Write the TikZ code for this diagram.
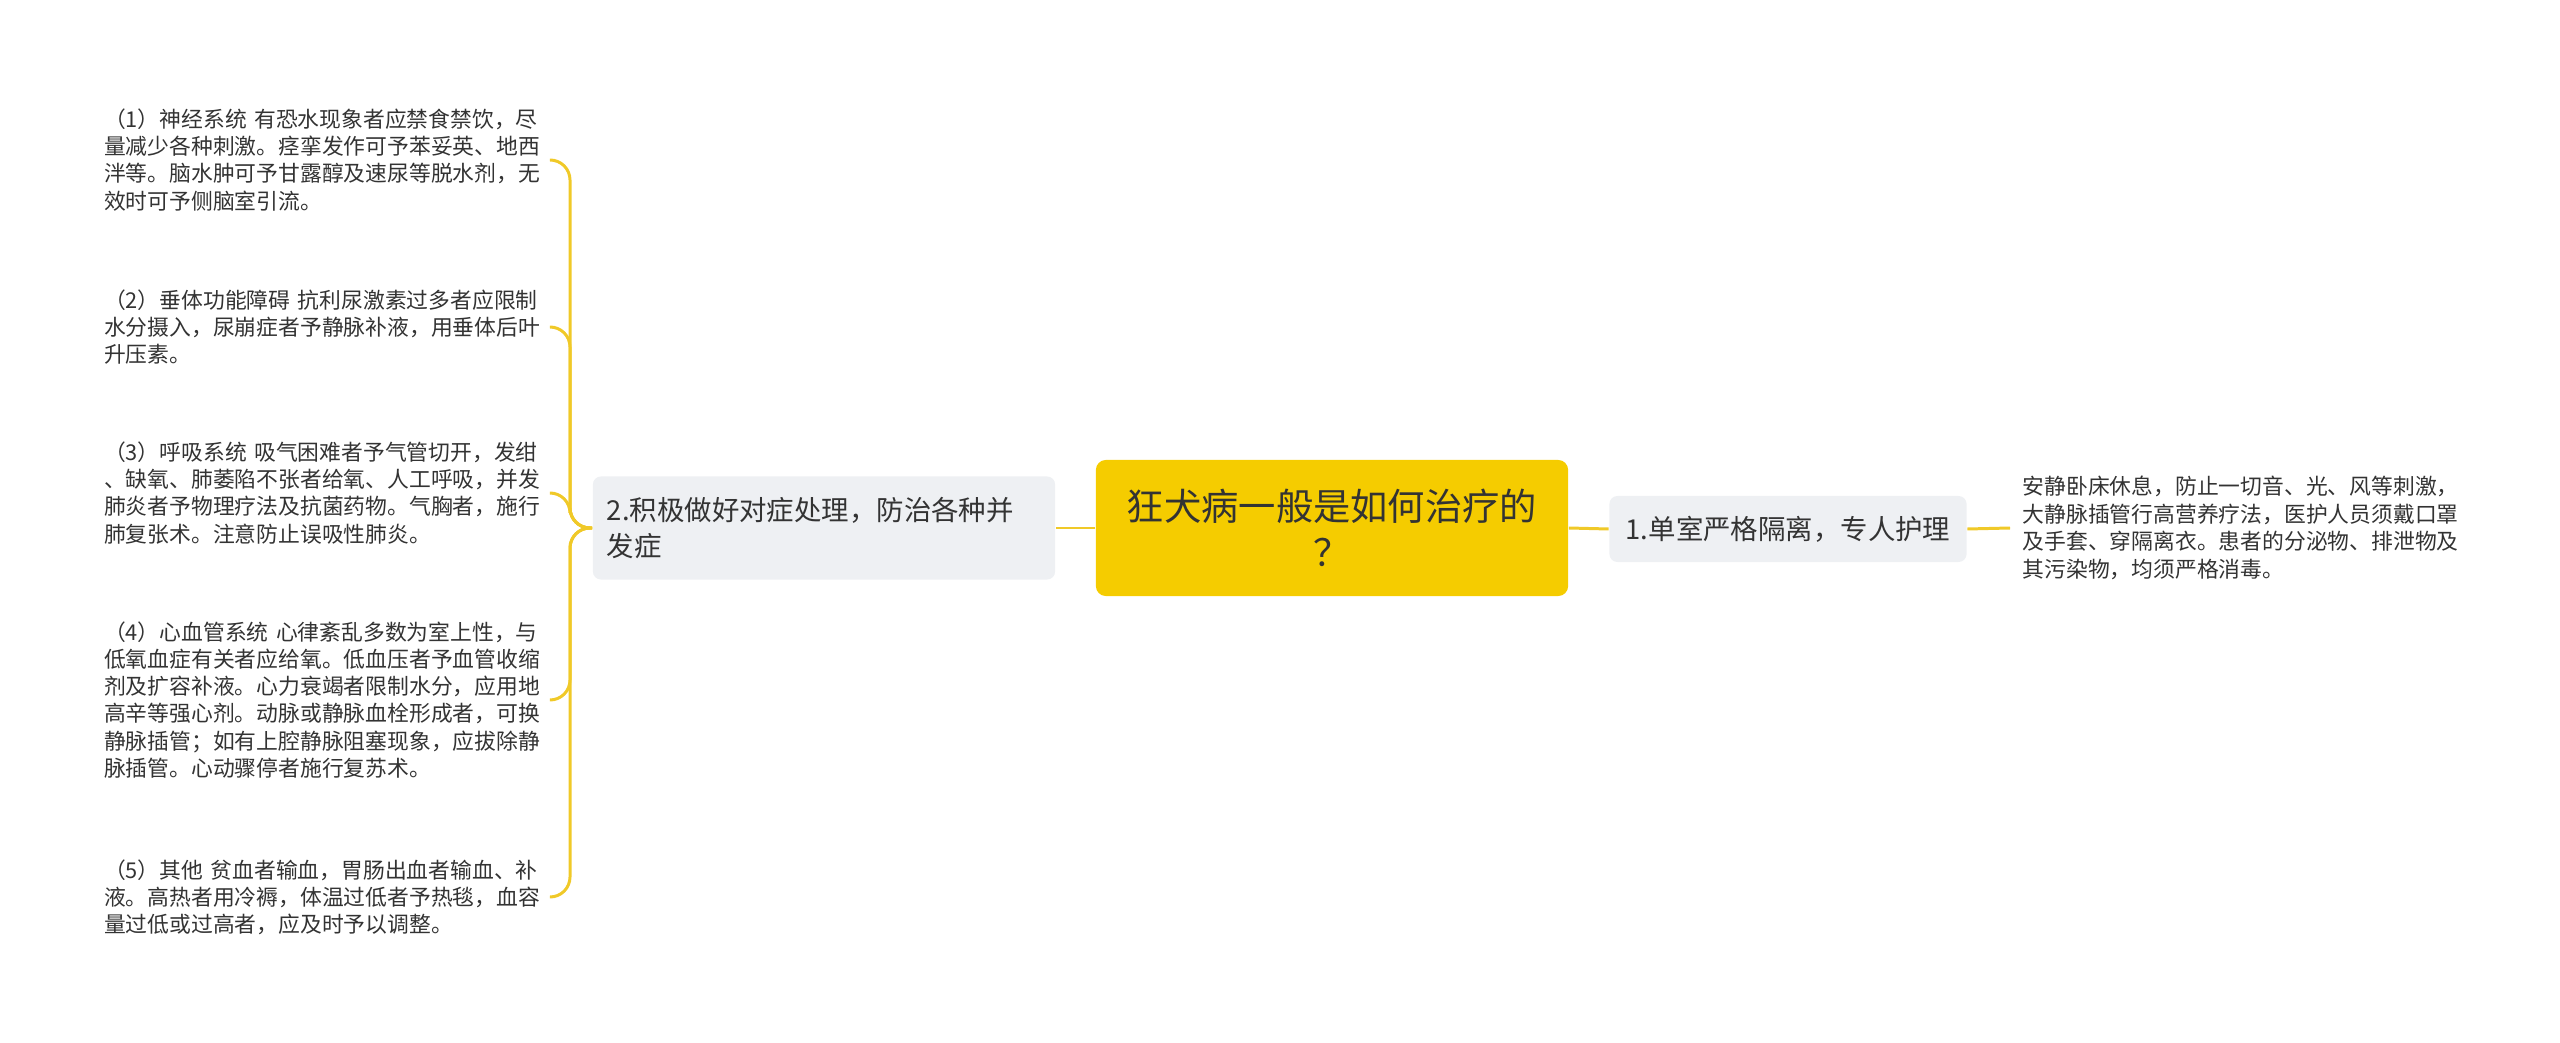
\documentclass[tikz,border=0pt]{standalone}
\usepackage{fontspec}
\setmainfont{Noto Sans CJK SC}
\usetikzlibrary{positioning}
\definecolor{rootyellow}{HTML}{F5CC00}
\definecolor{linkyellow}{HTML}{F0C928}
\definecolor{boxgray}{HTML}{EEF0F3}
\definecolor{inkgray}{HTML}{333333}
\tikzset{
  root/.style={fill=rootyellow, rounded corners=0.1cm, align=center, text=inkgray,
    minimum width=4.72cm, minimum height=1.36cm, inner sep=0pt,
    font=\fontsize{10.6pt}{13pt}\selectfont},
  branch/.style={fill=boxgray, rounded corners=0.08cm, text=inkgray,
    inner xsep=0.14cm, inner ysep=0pt, font=\fontsize{7.8pt}{10pt}\selectfont},
  leaf/.style={align=left, text=inkgray, text width=4.47cm, inner xsep=0pt,
    font=\fontsize{6.2pt}{7.7pt}\selectfont},
  link/.style={draw=linkyellow, line width=0.85pt, rounded corners=0.2cm}
}
\begin{document}
\begin{tikzpicture}[x=0.01cm, y=-0.01cm]
\useasboundingbox (0,0) rectangle (2560,1043);
\node[root] (root) at (1332,528) {狂犬病一般是如何治疗的\\？};
\node[branch, minimum width=3.57cm, minimum height=0.66cm] (n1) at (1788,529) {1.单室严格隔离，专人护理};
\node[branch, minimum width=4.62cm, minimum height=1.03cm, text width=4.34cm, align=left] (n2) at (824,528) {2.积极做好对症处理，防治各种并\\发症};
\node[leaf, anchor=west, inner xsep=0.12cm, font=\fontsize{6.2pt}{7.9pt}\selectfont] (r1) at (2010,528) {安静卧床休息，防止一切音、光、风等刺激，\\大静脉插管行高营养疗法，医护人员须戴口罩\\及手套、穿隔离衣。患者的分泌物、排泄物及\\其污染物，均须严格消毒。};
\node[leaf, anchor=east] (l1) at (552,160) {（1）神经系统 有恐水现象者应禁食禁饮，尽\\量减少各种刺激。痉挛发作可予苯妥英、地西\\泮等。脑水肿可予甘露醇及速尿等脱水剂，无\\效时可予侧脑室引流。};
\node[leaf, anchor=east] (l2) at (552,327) {（2）垂体功能障碍 抗利尿激素过多者应限制\\水分摄入，尿崩症者予静脉补液，用垂体后叶\\升压素。};
\node[leaf, anchor=east] (l3) at (552,493) {（3）呼吸系统 吸气困难者予气管切开，发绀\\、缺氧、肺萎陷不张者给氧、人工呼吸，并发\\肺炎者予物理疗法及抗菌药物。气胸者，施行\\肺复张术。注意防止误吸性肺炎。};
\node[leaf, anchor=east] (l4) at (552,700) {（4）心血管系统 心律紊乱多数为室上性，与\\低氧血症有关者应给氧。低血压者予血管收缩\\剂及扩容补液。心力衰竭者限制水分，应用地\\高辛等强心剂。动脉或静脉血栓形成者，可换\\静脉插管；如有上腔静脉阻塞现象，应拔除静\\脉插管。心动骤停者施行复苏术。};
\node[leaf, anchor=east] (l5) at (552,897) {（5）其他 贫血者输血，胃肠出血者输血、补\\液。高热者用冷褥，体温过低者予热毯，血容\\量过低或过高者，应及时予以调整。};
\coordinate (bar) at (570,528);
\draw[link] (root.west) -- (n2.east);
\draw[link] (root.east) -- (n1.west);
\draw[link] (n1.east) -- (r1.west);
\foreach \l in {l1,l2,l3,l4,l5}
  \draw[link] (n2.west) -- (bar) |- (\l.east);
\end{tikzpicture}
\end{document}
